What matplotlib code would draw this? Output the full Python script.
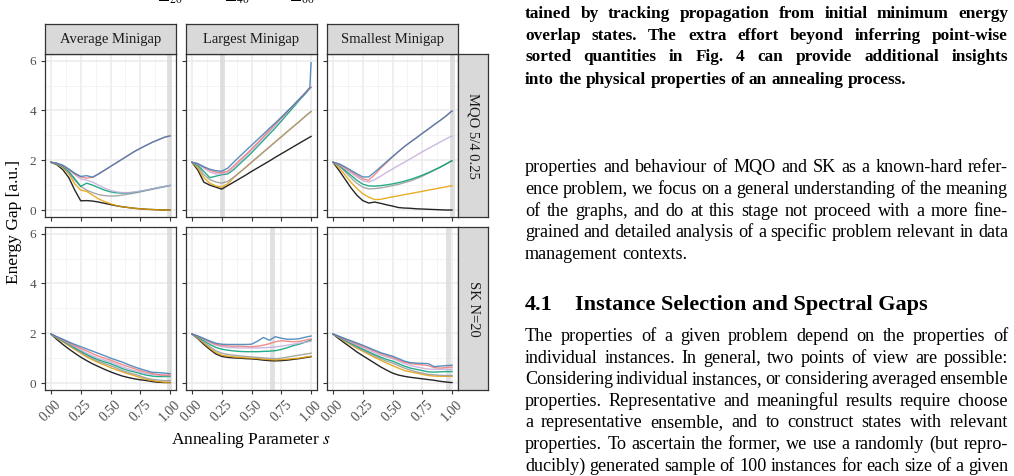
import matplotlib
matplotlib.use("Agg")
import matplotlib.pyplot as plt
from matplotlib.ticker import MultipleLocator, FormatStrFormatter

# annealing parameter grid shared by all panels
s = [0, 0.05, 0.1, 0.15, 0.2, 0.25, 0.3, 0.35, 0.4, 0.45, 0.5,
     0.55, 0.6, 0.65, 0.7, 0.75, 0.8, 0.85, 0.9, 0.95, 0.99, 1.0]

line_colors = ["#000000", "#E69F00", "#999999", "#009E73", "#C4ABDB", "#EE7A76", "#3B7DB5"]

# MQO 5/4 0.25 -- average minigap
avg_mqo = [
    [1.92, 1.82, 1.62, 1.3, 0.8, 0.37, 0.38, 0.36, 0.32, 0.27, 0.22, 0.17, 0.13, 0.1, 0.07, 0.05, 0.03, 0.02, 0.01, 0.0, 0.0, 0.0],
    [1.92, 1.84, 1.7, 1.45, 1.05, 0.8, 0.75, 0.6, 0.45, 0.34, 0.25, 0.18, 0.13, 0.1, 0.07, 0.05, 0.03, 0.02, 0.01, 0.0, 0.0, 0.0],
    [1.92, 1.85, 1.72, 1.5, 1.2, 0.95, 0.8, 0.7, 0.62, 0.58, 0.56, 0.57, 0.6, 0.64, 0.68, 0.73, 0.78, 0.83, 0.88, 0.93, 0.97, 0.98],
    [1.92, 1.86, 1.75, 1.55, 1.25, 0.95, 1.08, 1.0, 0.9, 0.8, 0.73, 0.69, 0.68, 0.69, 0.71, 0.75, 0.8, 0.85, 0.9, 0.94, 0.98, 0.99],
    [1.92, 1.87, 1.78, 1.62, 1.42, 1.25, 1.2, 1.12, 1.0, 0.88, 0.79, 0.73, 0.7, 0.7, 0.72, 0.76, 0.8, 0.85, 0.9, 0.94, 0.98, 0.99],
    [1.92, 1.88, 1.78, 1.62, 1.45, 1.33, 1.28, 1.32, 1.45, 1.6, 1.75, 1.9, 2.05, 2.2, 2.35, 2.48, 2.6, 2.72, 2.82, 2.92, 2.97, 2.98],
    [1.92, 1.88, 1.8, 1.65, 1.48, 1.35, 1.38, 1.32, 1.45, 1.6, 1.75, 1.9, 2.05, 2.2, 2.35, 2.48, 2.6, 2.72, 2.82, 2.92, 2.97, 2.98],
]
# MQO 5/4 0.25 -- largest minigap
big_mqo = [
    [1.92, 1.6, 1.12, 1.0, 0.92, 0.84, 0.98, 1.12, 1.26, 1.4, 1.55, 1.69, 1.83, 1.97, 2.12, 2.26, 2.4, 2.54, 2.68, 2.82, 2.93, 2.96],
    [1.92, 1.68, 1.3, 1.08, 0.97, 0.92, 1.05, 1.3, 1.51, 1.71, 1.92, 2.12, 2.33, 2.53, 2.74, 2.94, 3.15, 3.35, 3.55, 3.76, 3.92, 3.96],
    [1.92, 1.75, 1.42, 1.22, 1.13, 1.08, 1.15, 1.32, 1.51, 1.71, 1.92, 2.12, 2.33, 2.53, 2.74, 2.94, 3.15, 3.35, 3.55, 3.76, 3.92, 3.96],
    [1.92, 1.8, 1.55, 1.3, 1.36, 1.42, 1.45, 1.62, 1.85, 2.07, 2.3, 2.55, 2.8, 3.05, 3.3, 3.57, 3.85, 4.12, 4.4, 4.66, 4.88, 4.93],
    [1.92, 1.84, 1.68, 1.53, 1.45, 1.45, 1.5, 1.7, 1.93, 2.17, 2.4, 2.65, 2.9, 3.15, 3.4, 3.67, 3.93, 4.18, 4.43, 4.68, 4.88, 4.93],
    [1.92, 1.86, 1.72, 1.6, 1.52, 1.5, 1.56, 1.77, 2.0, 2.22, 2.45, 2.7, 2.95, 3.2, 3.45, 3.7, 3.95, 4.2, 4.45, 4.7, 4.9, 4.93],
    [1.92, 1.86, 1.74, 1.64, 1.58, 1.56, 1.68, 1.92, 2.15, 2.38, 2.6, 2.83, 3.05, 3.28, 3.5, 3.73, 3.97, 4.2, 4.45, 4.7, 4.93, 5.92],
]
# MQO 5/4 0.25 -- smallest minigap
small_mqo = [
    [1.92, 1.6, 1.25, 0.9, 0.6, 0.38, 0.28, 0.32, 0.27, 0.21, 0.16, 0.1, 0.08, 0.07, 0.05, 0.04, 0.03, 0.02, 0.01, 0.0, 0.0, 0.0],
    [1.92, 1.7, 1.42, 1.12, 0.87, 0.66, 0.52, 0.42, 0.43, 0.48, 0.53, 0.57, 0.62, 0.66, 0.71, 0.75, 0.8, 0.84, 0.89, 0.93, 0.97, 0.98],
    [1.92, 1.78, 1.55, 1.3, 1.08, 0.92, 0.85, 0.86, 0.89, 0.93, 0.98, 1.03, 1.1, 1.17, 1.26, 1.36, 1.48, 1.6, 1.72, 1.85, 1.96, 1.98],
    [1.92, 1.8, 1.6, 1.4, 1.2, 1.04, 0.97, 0.96, 0.98, 1.01, 1.05, 1.1, 1.16, 1.23, 1.31, 1.4, 1.5, 1.61, 1.72, 1.85, 1.96, 1.98],
    [1.92, 1.82, 1.66, 1.5, 1.33, 1.18, 1.12, 1.22, 1.36, 1.51, 1.65, 1.79, 1.92, 2.06, 2.2, 2.34, 2.47, 2.6, 2.73, 2.86, 2.96, 2.97],
    [1.92, 1.84, 1.7, 1.55, 1.4, 1.25, 1.2, 1.42, 1.68, 1.9, 2.13, 2.35, 2.55, 2.73, 2.9, 3.08, 3.25, 3.43, 3.6, 3.78, 3.94, 3.97],
    [1.92, 1.86, 1.74, 1.6, 1.46, 1.33, 1.33, 1.52, 1.73, 1.94, 2.15, 2.35, 2.55, 2.73, 2.9, 3.08, 3.25, 3.43, 3.6, 3.78, 3.95, 3.98],
]
# SK N=20 -- average minigap
avg_sk = [
    [1.97, 1.75, 1.55, 1.37, 1.2, 1.04, 0.9, 0.77, 0.66, 0.55, 0.45, 0.36, 0.28, 0.22, 0.17, 0.13, 0.1, 0.06, 0.03, 0.02, 0.02, 0.02],
    [1.97, 1.8, 1.65, 1.5, 1.35, 1.2, 1.05, 0.93, 0.82, 0.72, 0.62, 0.53, 0.45, 0.37, 0.3, 0.22, 0.15, 0.1, 0.06, 0.03, 0.02, 0.02],
    [1.97, 1.82, 1.68, 1.53, 1.38, 1.24, 1.1, 0.98, 0.87, 0.78, 0.7, 0.6, 0.5, 0.42, 0.36, 0.28, 0.2, 0.15, 0.12, 0.1, 0.1, 0.1],
    [1.97, 1.83, 1.7, 1.56, 1.42, 1.28, 1.15, 1.03, 0.93, 0.85, 0.78, 0.68, 0.58, 0.5, 0.45, 0.38, 0.32, 0.28, 0.26, 0.26, 0.26, 0.26],
    [1.97, 1.84, 1.72, 1.59, 1.46, 1.33, 1.2, 1.09, 0.99, 0.92, 0.85, 0.75, 0.65, 0.57, 0.5, 0.44, 0.38, 0.34, 0.32, 0.3, 0.3, 0.3],
    [1.97, 1.85, 1.74, 1.62, 1.5, 1.39, 1.29, 1.18, 1.08, 1.0, 0.92, 0.83, 0.74, 0.66, 0.58, 0.5, 0.44, 0.38, 0.34, 0.32, 0.32, 0.32],
    [1.97, 1.86, 1.76, 1.65, 1.55, 1.46, 1.37, 1.28, 1.19, 1.1, 1.0, 0.92, 0.84, 0.74, 0.65, 0.57, 0.5, 0.43, 0.42, 0.4, 0.38, 0.38],
]
# SK N=20 -- largest minigap
big_sk = [
    [1.97, 1.78, 1.55, 1.35, 1.17, 1.07, 1.03, 1.01, 1.0, 0.98, 0.97, 0.95, 0.92, 0.9, 0.89, 0.9, 0.92, 0.95, 0.98, 1.02, 1.05, 1.06],
    [1.97, 1.8, 1.6, 1.4, 1.23, 1.12, 1.08, 1.05, 1.03, 1.01, 1.0, 0.98, 0.96, 0.94, 0.93, 0.94, 0.96, 0.98, 1.0, 1.04, 1.07, 1.08],
    [1.97, 1.82, 1.64, 1.46, 1.3, 1.2, 1.15, 1.12, 1.09, 1.07, 1.05, 1.03, 1.01, 0.99, 0.98, 1.0, 1.04, 1.08, 1.12, 1.16, 1.19, 1.2],
    [1.97, 1.85, 1.7, 1.55, 1.43, 1.36, 1.32, 1.29, 1.27, 1.26, 1.26, 1.26, 1.27, 1.28, 1.3, 1.35, 1.42, 1.5, 1.56, 1.64, 1.71, 1.73],
    [1.97, 1.87, 1.75, 1.62, 1.52, 1.46, 1.43, 1.42, 1.41, 1.41, 1.41, 1.41, 1.42, 1.43, 1.45, 1.48, 1.52, 1.56, 1.6, 1.64, 1.67, 1.68],
    [1.97, 1.88, 1.77, 1.65, 1.56, 1.51, 1.49, 1.48, 1.48, 1.47, 1.46, 1.48, 1.52, 1.58, 1.66, 1.7, 1.68, 1.66, 1.67, 1.72, 1.76, 1.77],
    [1.97, 1.89, 1.79, 1.69, 1.6, 1.56, 1.55, 1.55, 1.55, 1.55, 1.56, 1.68, 1.83, 1.72, 1.86, 1.8, 1.76, 1.76, 1.78, 1.84, 1.88, 1.89],
]
# SK N=20 -- smallest minigap
small_sk = [
    [1.97, 1.78, 1.6, 1.43, 1.25, 1.1, 0.95, 0.8, 0.65, 0.52, 0.4, 0.32, 0.27, 0.23, 0.2, 0.17, 0.14, 0.11, 0.07, 0.04, 0.02, 0.02],
    [1.97, 1.83, 1.68, 1.54, 1.4, 1.28, 1.15, 1.03, 0.92, 0.8, 0.7, 0.6, 0.5, 0.45, 0.4, 0.35, 0.3, 0.28, 0.27, 0.27, 0.27, 0.27],
    [1.97, 1.84, 1.7, 1.57, 1.44, 1.32, 1.2, 1.09, 0.98, 0.88, 0.8, 0.7, 0.6, 0.52, 0.45, 0.4, 0.35, 0.33, 0.31, 0.3, 0.3, 0.3],
    [1.97, 1.85, 1.72, 1.6, 1.48, 1.36, 1.25, 1.14, 1.04, 0.95, 0.88, 0.78, 0.68, 0.6, 0.55, 0.5, 0.45, 0.44, 0.45, 0.46, 0.46, 0.46],
    [1.97, 1.86, 1.75, 1.64, 1.53, 1.43, 1.32, 1.22, 1.12, 1.05, 0.98, 0.88, 0.78, 0.7, 0.65, 0.6, 0.56, 0.55, 0.55, 0.55, 0.55, 0.55],
    [1.97, 1.87, 1.77, 1.67, 1.57, 1.47, 1.38, 1.28, 1.18, 1.1, 1.03, 0.93, 0.84, 0.78, 0.75, 0.73, 0.7, 0.62, 0.6, 0.62, 0.64, 0.64],
    [1.97, 1.88, 1.79, 1.7, 1.61, 1.52, 1.42, 1.32, 1.22, 1.15, 1.08, 0.98, 0.88, 0.82, 0.8, 0.79, 0.78, 0.66, 0.68, 0.7, 0.71, 0.72],
]

col_labels = ["Average Minigap", "Largest Minigap", "Smallest Minigap"]
row_labels = ["MQO 5/4 0.25", "SK N=20"]
vline_mqo = [0.995, 0.25, 1.0]
vline_sk = [0.995, 0.675, 0.97]
legend_labels = [r"$\Delta_{20}$", r"$\Delta_{40}$", r"$\Delta_{60}$"]

bold_lines = [
    "tained by tracking propagation from initial minimum energy",
    "overlap states. The extra effort beyond inferring point-wise",
    "sorted quantities in Fig. 4 can provide additional insights",
    "into the physical properties of an annealing process.",
]
para1 = [
    "properties and behaviour of MQO and SK as a known-hard refer-",
    "ence problem, we focus on a general understanding of the meaning",
    "of the graphs, and do at this stage not proceed with a more fine-",
    "grained and detailed analysis of a specific problem relevant in data",
    "management contexts.",
]
para2 = [
    "The properties of a given problem depend on the properties of",
    "individual instances. In general, two points of view are possible:",
    "Considering individual instances, or considering averaged ensemble",
    "properties. Representative and meaningful results require choose",
    "a representative ensemble, and to construct states with relevant",
    "properties. To ascertain the former, we use a randomly (but repro-",
    "ducibly) generated sample of 100 instances for each size of a given",
]

W, H = 1014, 476
serif = "Liberation Serif"
plt.rcParams["mathtext.fontset"] = "stix"
fig = plt.figure(figsize=(W / 100, H / 100), dpi=100)


def box(x0, y0, x1, y1):
    # pixel rectangle (top-left origin) -> figure fraction
    return [x0 / W, 1 - y1 / H, (x1 - x0) / W, (y1 - y0) / H]


def strip(rect, label, rot=0):
    sa = fig.add_axes(box(*rect))
    sa.set_facecolor("#D9D9D9")
    sa.set_xticks([])
    sa.set_yticks([])
    for sp in sa.spines.values():
        sp.set_color("#333333")
        sp.set_linewidth(0.9)
    sa.text(0.5, 0.5, label, ha="center", va="center", rotation=rot,
            fontsize=10.5, family=serif, color="#1A1A1A", transform=sa.transAxes)


cols = [(45, 176), (186, 317), (327, 458)]
rows = [(54, 217), (227, 390)]
panels = [[avg_mqo, big_mqo, small_mqo], [avg_sk, big_sk, small_sk]]
vlines = [vline_mqo, vline_sk]

for r, (y0, y1) in enumerate(rows):
    for c, (x0, x1) in enumerate(cols):
        ax = fig.add_axes(box(x0, y0, x1, y1))
        ax.set_xlim(-0.05, 1.05)
        ax.set_ylim(-0.28, 6.27)
        ax.xaxis.set_major_locator(MultipleLocator(0.25))
        ax.xaxis.set_minor_locator(MultipleLocator(0.125))
        ax.yaxis.set_major_locator(MultipleLocator(2))
        ax.yaxis.set_minor_locator(MultipleLocator(1))
        ax.grid(which="major", color="#EBEBEB", lw=1.1)
        ax.grid(which="minor", color="#F2F2F2", lw=0.6)
        ax.set_axisbelow(True)
        ax.tick_params(which="minor", length=0)
        ax.tick_params(which="major", length=3, width=0.8, color="#333333",
                       labelsize=9.5, labelcolor="#4D4D4D")
        ax.tick_params(axis="x", labelsize=10, pad=3)
        for sp in ax.spines.values():
            sp.set_color("#333333")
            sp.set_linewidth(0.9)
        ax.axvline(vlines[r][c], color="#D9D9D9", lw=3.5, alpha=0.8, zorder=1)
        for vals, col in zip(panels[r][c], line_colors):
            ax.plot(s, vals, color=col, lw=1.0, alpha=0.85, zorder=2)
        ax.xaxis.set_major_formatter(FormatStrFormatter("%.2f"))
        ax.yaxis.set_major_formatter(FormatStrFormatter("%d"))
        if c > 0:
            ax.set_yticklabels([])
        if r == 0:
            ax.set_xticklabels([])
        else:
            for lab in ax.get_xticklabels():
                lab.set_rotation(45)
                lab.set_family(serif)
        for lab in ax.get_yticklabels():
            lab.set_family(serif)
        if r == 0:
            strip((x0, 24, x1, 54), col_labels[c])
    strip((458, y0, 488, y1), row_labels[r], rot=-90)

fig.text(14 / W, 1 - 222 / H, "Energy Gap [a.u.]", rotation=90, ha="center", va="center",
         fontsize=12.5, family=serif)
fig.text(251 / W, 1 - 440 / H, "Annealing Parameter $s$", ha="center", va="center",
         fontsize=12.5, family=serif)

# legend keys, mostly cut off by the top edge as on the page
for lx, lab in zip([170, 237, 302], legend_labels):
    fig.text(lx / W, 1 - 2 / H, lab, ha="center", va="baseline", fontsize=12)

# text column of the page
renderer = fig.canvas.get_renderer()
xl, xr = 525, 1008


def put_line(text, yb, size=13.1, weight="normal", justify=True, x_start=xl):
    words = text.split()
    arts = [fig.text(0, 1 - yb / H, w, fontsize=size, weight=weight, family=serif,
                     va="baseline", ha="left") for w in words]
    widths = [a.get_window_extent(renderer).width for a in arts]
    if justify and len(words) > 1:
        gap = (xr - x_start - sum(widths)) / (len(words) - 1)
    else:
        gap = size * 100 / 72 * 0.25
    x = x_start
    for a, w in zip(arts, widths):
        a.set_x(x / W)
        x += w + gap


for i, (t, yc) in enumerate(zip(bold_lines, [14, 36, 57, 80])):
    put_line(t, yc + 4, size=12.4, weight="bold", justify=i < len(bold_lines) - 1)
for i, (t, yc) in enumerate(zip(para1, [168, 190, 212, 233, 255])):
    put_line(t, yc + 4, justify=i < len(para1) - 1)
fig.text(xl / W, 1 - 310 / H, "4.1", fontsize=16, weight="bold", family=serif, va="baseline")
fig.text(575 / W, 1 - 310 / H, "Instance Selection and Spectral Gaps", fontsize=16,
         weight="bold", family=serif, va="baseline")
for t, yc in zip(para2, [337, 359, 380, 402, 423, 445, 467]):
    put_line(t, yc + 4)

fig.savefig("out.png", dpi=100)
